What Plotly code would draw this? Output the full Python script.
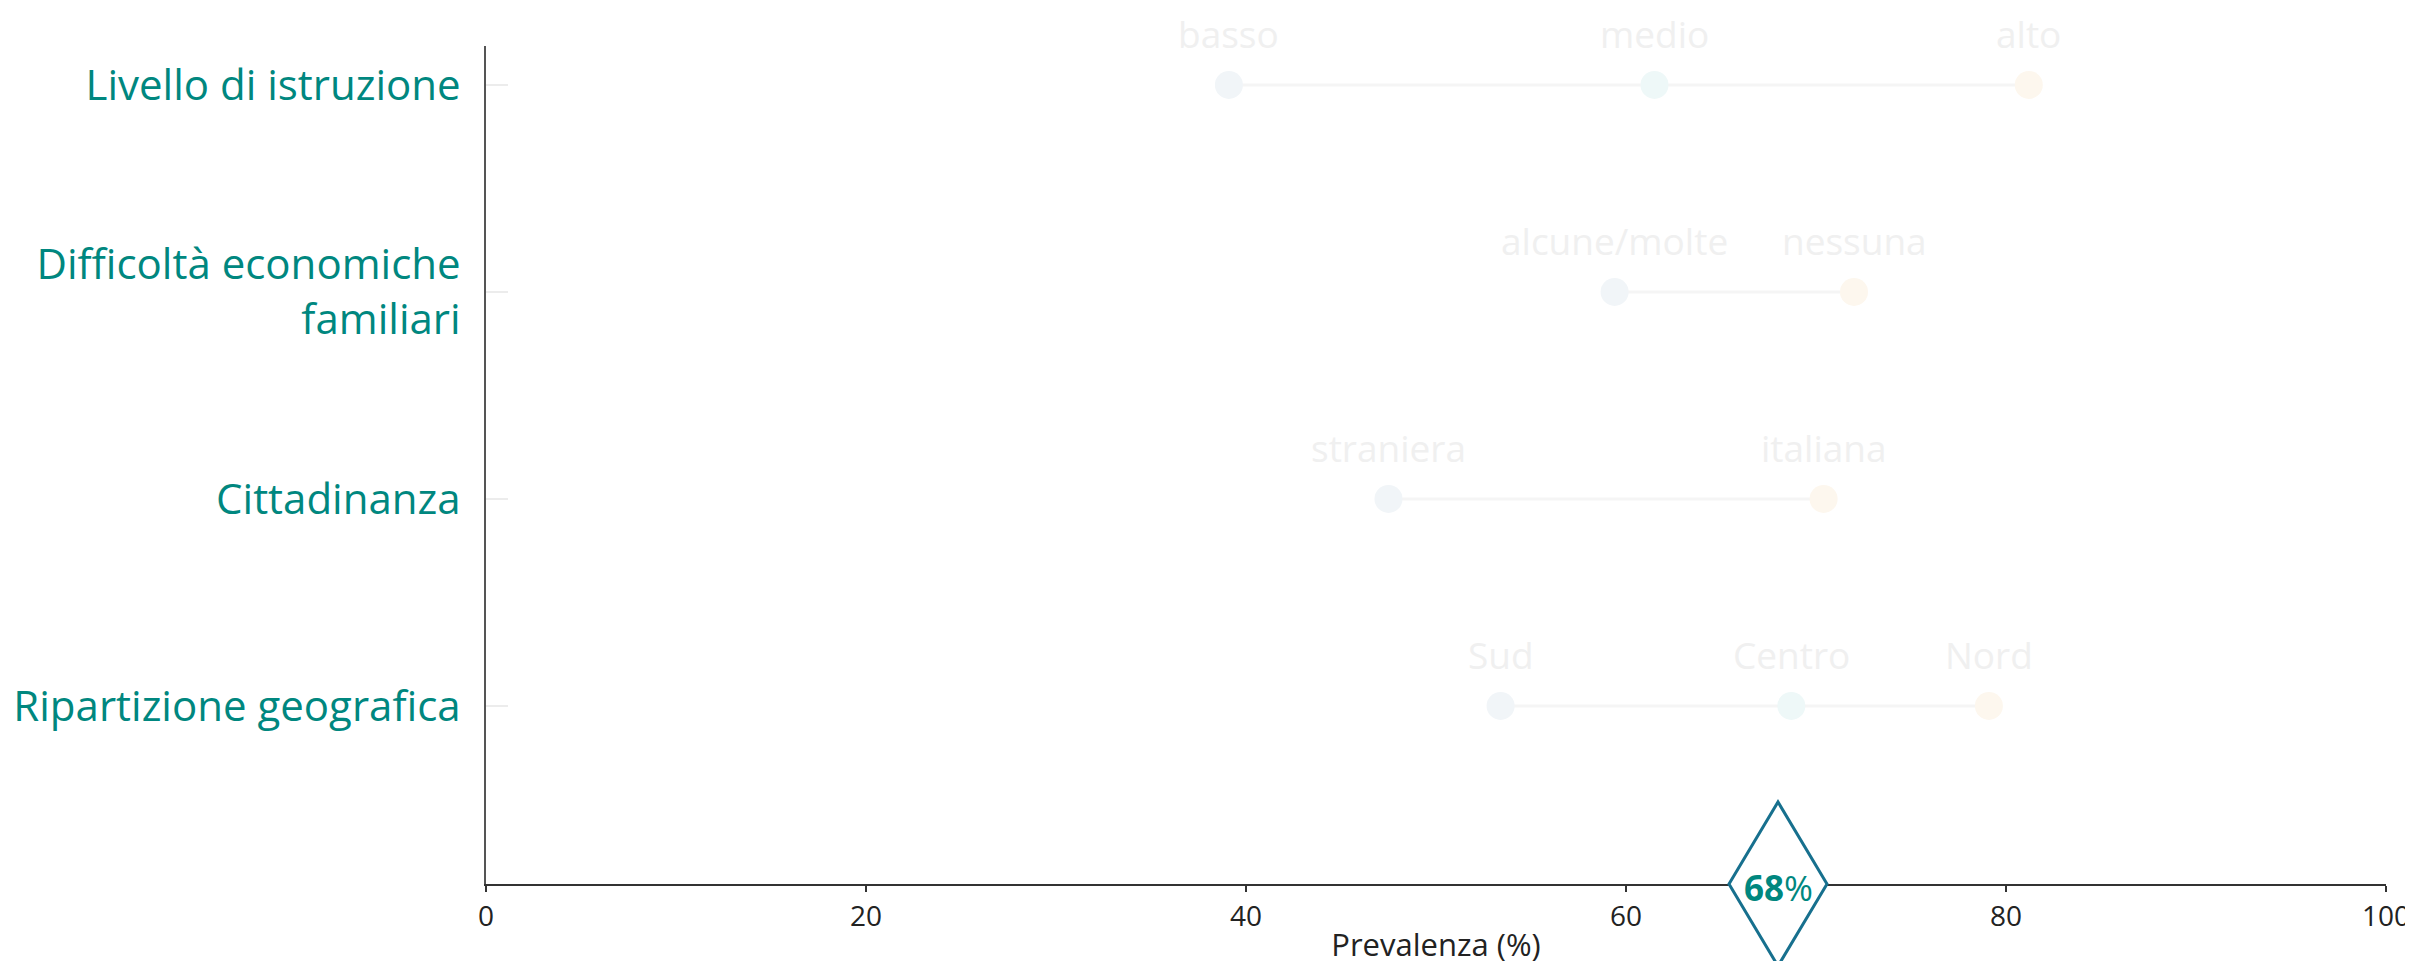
import plotly.graph_objects as go

# ---- data ----
categories = ["Livello di istruzione", "Difficoltà economiche<br>familiari",
              "Cittadinanza", "Ripartizione geografica"]

edu_labels = ["basso", "medio", "alto"]
edu_values = [39.1, 61.5, 81.2]

eco_labels = ["alcune/molte", "nessuna"]
eco_values = [59.4, 72.0]

cit_labels = ["straniera", "italiana"]
cit_values = [47.5, 70.4]

geo_labels = ["Sud", "Centro", "Nord"]
geo_values = [53.4, 68.7, 79.1]

overall_value = 68

x_ticks = [0, 20, 40, 60, 80, 100]

# ---- styles ----
TEAL = "#00877f"
DIAMOND = "#17708e"
PT_LOW = "#f1f5f8"
PT_MID = "#eef8f8"
PT_HIGH = "#fdf7ee"
LINE_C = "#f5f5f5"
TXT_C = "#f0f0f0"
FONT = "Open Sans"

groups = [
    (categories[0], edu_labels, edu_values),
    (categories[1], eco_labels, eco_values),
    (categories[2], cit_labels, cit_values),
    (categories[3], geo_labels, geo_values),
]

fig = go.Figure()
annotations = []

for cat, labels, values in groups:
    n = len(values)
    if n == 3:
        colors = [PT_LOW, PT_MID, PT_HIGH]
    else:
        colors = [PT_LOW, PT_HIGH]
    fig.add_trace(go.Scatter(
        x=values, y=[cat] * n, mode="lines",
        line=dict(color=LINE_C, width=3),
        hoverinfo="skip", showlegend=False))
    fig.add_trace(go.Scatter(
        x=values, y=[cat] * n, mode="markers",
        marker=dict(size=28, color=colors, line=dict(width=0)),
        showlegend=False))
    for lab, v in zip(labels, values):
        annotations.append(dict(
            x=v, y=cat, xref="x", yref="y", text=lab, showarrow=False,
            yshift=51, font=dict(family=FONT, size=37, color=TXT_C)))

# overall diamond
fig.add_shape(
    type="path", xref="x", yref="paper",
    xsizemode="pixel", ysizemode="pixel",
    xanchor=overall_value, yanchor=0,
    path="M -49 0 L 0 82 L 49 0 L 0 -82 Z",
    line=dict(color=DIAMOND, width=3), fillcolor="white", layer="above")

annotations.append(dict(
    x=overall_value, y=0, xref="x", yref="paper",
    text=f"<b>{overall_value}</b>%", showarrow=False,
    yanchor="middle", xanchor="center", yshift=-3,
    font=dict(family=FONT, size=35, color=TEAL)))

fig.update_layout(
    width=2413, height=961,
    margin=dict(l=478, r=35, t=38, b=85),
    paper_bgcolor="white", plot_bgcolor="white",
    annotations=annotations,
    showlegend=False,
)

fig.update_xaxes(
    range=[0, 100], tickvals=x_ticks,
    showgrid=False, zeroline=False,
    showline=True, linecolor="#333333", linewidth=2,
    ticks="outside", ticklen=6, tickcolor="#333333", tickwidth=2,
    tickfont=dict(family=FONT, size=28, color="#222222"),
    title=dict(text="Prevalenza (%)", standoff=2,
               font=dict(family=FONT, size=31, color="#222222")),
    automargin=False,
)

fig.update_yaxes(
    type="category", categoryorder="array", categoryarray=categories,
    range=[3.86, -0.188],
    showgrid=False, zeroline=False,
    showline=True, linecolor="#555555", linewidth=2,
    ticks="inside", ticklen=22, tickcolor="#ececec", tickwidth=2,
    tickfont=dict(family=FONT, size=42, color=TEAL),
    ticklabelstandoff=15,
    automargin=False,
)

fig.write_html("out.html")
